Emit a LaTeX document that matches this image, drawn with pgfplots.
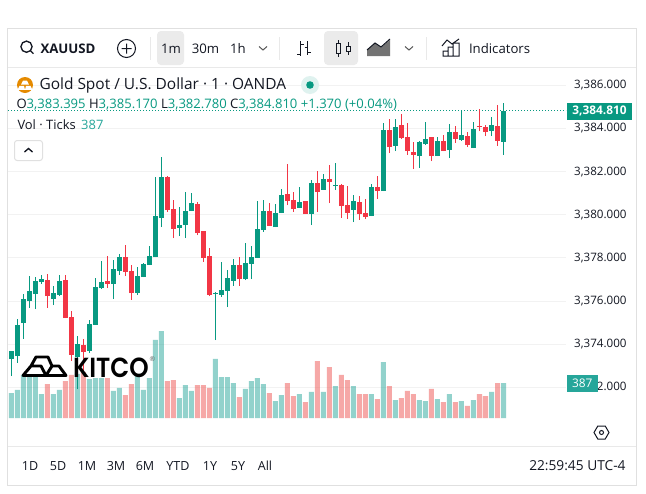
\documentclass[border=0pt]{standalone}
\usepackage{fontspec}
\setmainfont{Open Sans}
\newfontfamily\logofont{Poppins SemiBold}
\usepackage{pgfplots}
\usepackage{pgfplotstable}
\pgfplotsset{compat=1.18}

\definecolor{upc}{HTML}{089981}
\definecolor{downc}{HTML}{F23645}
\definecolor{volup}{HTML}{26A69A}
\definecolor{voldown}{HTML}{EF5350}
\definecolor{ink}{HTML}{131722}
\definecolor{framec}{HTML}{E0E0E0}
\definecolor{gridc}{HTML}{F2F2F2}

% x is the minute index, 6 px apart
\pgfplotstableread{
x o h l c v
0 3373.31 3373.68 3372.52 3373.68 276
1 3373.45 3375.17 3373.13 3374.89 310
2 3374.98 3376.33 3374.24 3376.09 476
3 3376.00 3377.16 3375.68 3376.46 476
4 3376.33 3377.11 3375.63 3376.93 465
5 3376.88 3377.21 3376.79 3377.02 265
7 3376.09 3376.70 3375.81 3376.37 265
8 3376.28 3377.21 3376.23 3376.93 310
11 3373.40 3374.38 3371.92 3374.00 487
13 3373.68 3375.12 3373.59 3374.93 431
14 3374.89 3377.07 3374.89 3376.65 442
15 3376.60 3377.86 3376.56 3376.88 442
17 3376.79 3377.90 3376.09 3377.49 299
18 3377.39 3378.18 3377.21 3378.04 332
21 3376.37 3377.58 3376.28 3377.16 476
22 3377.11 3377.76 3377.11 3377.72 310
23 3377.67 3378.55 3377.67 3378.09 442
24 3378.04 3381.75 3378.04 3379.94 863
25 3379.85 3382.68 3379.43 3381.75 962
28 3379.38 3380.36 3379.01 3379.52 221
29 3379.52 3381.05 3378.92 3380.17 365
30 3380.17 3381.01 3380.17 3380.54 299
34 3376.33 3376.42 3374.19 3376.37 653
35 3376.28 3377.81 3376.19 3376.51 453
36 3376.46 3377.44 3375.72 3377.07 453
37 3376.93 3377.95 3376.70 3377.67 387
39 3377.02 3378.69 3376.97 3377.76 321
40 3377.72 3378.55 3377.02 3378.04 409
41 3378.00 3380.64 3378.00 3379.34 442
42 3379.29 3380.68 3379.20 3380.17 376
44 3379.43 3380.50 3379.43 3380.08 188
45 3380.08 3381.19 3380.08 3380.91 254
48 3380.31 3381.29 3380.31 3380.59 265
50 3380.03 3381.61 3379.52 3381.47 288
52 3381.15 3381.89 3381.15 3381.66 288
54 3381.33 3382.40 3381.15 3381.38 354
57 3380.22 3380.91 3379.66 3380.64 354
60 3379.94 3381.42 3379.94 3381.29 265
62 3381.10 3384.25 3381.10 3383.93 619
64 3383.19 3384.44 3382.95 3384.07 199
68 3382.72 3383.42 3382.17 3383.37 199
69 3383.28 3384.30 3383.23 3383.51 188
71 3382.72 3383.60 3382.72 3383.42 210
73 3383.00 3384.21 3382.63 3383.84 265
75 3383.47 3384.81 3383.42 3383.70 188
77 3383.09 3384.30 3383.09 3383.97 199
80 3383.88 3384.53 3383.65 3384.16 288
82 3383.395 3385.17 3382.78 3384.81 387
}\upbars

\pgfplotstableread{
x o h l c v
6 3376.97 3377.25 3375.68 3376.23 376
9 3376.97 3377.21 3375.21 3375.21 409
10 3375.26 3375.54 3373.22 3373.50 476
12 3373.96 3374.24 3372.71 3373.64 509
16 3376.93 3378.09 3376.60 3376.79 442
19 3378.04 3378.60 3377.16 3377.35 254
20 3377.39 3377.67 3376.05 3376.37 376
26 3381.75 3381.80 3380.13 3380.22 409
27 3380.26 3380.68 3378.92 3379.34 420
31 3380.50 3380.59 3379.06 3379.15 365
32 3379.25 3379.25 3377.81 3378.00 365
33 3378.09 3378.46 3376.23 3376.28 332
38 3377.67 3378.04 3376.70 3377.02 232
43 3380.17 3380.54 3379.48 3379.48 276
46 3380.96 3382.35 3380.45 3380.64 387
47 3380.68 3381.05 3380.13 3380.26 243
49 3380.64 3380.64 3380.03 3380.03 177
51 3381.47 3382.03 3380.13 3381.05 630
53 3381.66 3382.31 3380.54 3381.52 564
55 3381.38 3381.42 3379.85 3380.40 476
56 3380.45 3381.33 3379.80 3380.08 420
58 3380.59 3380.87 3379.76 3380.03 265
59 3380.08 3380.73 3379.80 3379.89 265
61 3381.29 3381.80 3380.73 3381.10 210
63 3383.93 3384.44 3382.86 3383.14 354
65 3384.16 3384.67 3383.51 3383.56 221
66 3383.60 3384.25 3382.77 3382.95 299
67 3382.91 3383.37 3382.12 3382.77 265
70 3383.60 3383.60 3382.49 3382.72 321
72 3383.42 3383.70 3382.95 3382.95 177
74 3383.84 3384.11 3383.33 3383.51 177
76 3383.65 3383.84 3383.14 3383.23 133
78 3384.11 3384.90 3383.88 3384.07 265
79 3384.07 3384.16 3383.65 3383.84 243
81 3384.11 3385.09 3383.19 3383.42 387
}\downbars

\pgfplotsset{
	pane/.style={scale only axis, width=418.5pt, xmin=-0.583, xmax=92.417, clip=true},
	wick/.style={draw=none, no markers, forget plot,
		error bars/.cd, y dir=plus, y explicit, error mark=none,
		error bar style={solid, line width=0.75pt, draw=#1}},
	body/.style={draw=none, no markers, forget plot,
		error bars/.cd, y dir=plus, y explicit, error mark=none,
		error bar style={solid, line width=3.75pt, draw=#1}},
	volbar/.style={ybar, bar width=3.75pt, bar shift=0pt, fill=#1, fill opacity=0.5, draw=none, forget plot},
}

\begin{document}
\begin{tikzpicture}
\fill[white] (0,0) rectangle (484.5pt,-369.75pt);
\path[use as bounding box] (0,0) rectangle (484.5pt,-369.75pt);

% price scale, grid and last price line
\begin{axis}[pane, at={(6pt,-334.725pt)}, anchor=south west, height=284.25pt,
	ymin=3369.265, ymax=3386.835,
	axis line style={draw=none}, tick style={draw=none},
	xtick=\empty, ytick={3372,3374,...,3386},
	ymajorgrids, grid style={gridc, line width=0.75pt},
	y tick label style={anchor=east, xshift=45.6pt, inner sep=0pt, text=ink,
		font=\fontsize{8.7pt}{10pt}\selectfont,
		/pgf/number format/.cd, fixed, fixed zerofill, precision=3, 1000 sep={,}, assume math mode=true},
	ytick pos=right,
]
\addplot[upc, line width=0.75pt, dash pattern=on 0.6pt off 1.65pt, forget plot]
	coordinates {(-0.583,3384.81) (92.417,3384.81)};
\end{axis}

% volume pane, same x
\begin{axis}[pane, at={(6pt,-313.5pt)}, anchor=south west, height=263pt,
	ymin=0, ymax=3879, hide axis]
\addplot[volbar=volup] table[x=x,y=v] {\upbars};
\addplot[volbar=voldown] table[x=x,y=v] {\downbars};
\end{axis}

% candles
\begin{axis}[pane, at={(6pt,-334.725pt)}, anchor=south west, height=284.25pt,
	ymin=3369.265, ymax=3386.835, hide axis]
\addplot[wick=upc] table[x=x,y=l,y error plus expr=\thisrow{h}-\thisrow{l}] {\upbars};
\addplot[wick=downc] table[x=x,y=l,y error plus expr=\thisrow{h}-\thisrow{l}] {\downbars};
\addplot[body=upc] table[x=x,y=o,y error plus expr=\thisrow{c}-\thisrow{o}] {\upbars};
\addplot[body=downc] table[x=x,y=c,y error plus expr=\thisrow{o}-\thisrow{c}] {\downbars};
\end{axis}

% page furniture, in image pixels
\begin{scope}[x=0.75pt,y=-0.75pt,line width=0.75pt]
\draw[framec] (7.5,28.5) rectangle (636,485);
\draw[framec!70] (8,67.3) -- (636,67.3);
\draw[framec!70] (8,446.3) -- (636,446.3);

% toolbar
\draw[ink,line width=1pt] (26.5,46.7) circle (5.6) (30.6,50.8) -- (33.5,53.7);
\node[anchor=west,inner sep=0,text=ink] at (40,48.3) {\fontsize{9.9pt}{11pt}\selectfont\bfseries XAUUSD};
\draw[ink] (126.5,48.5) circle (9) (121.5,48.5) -- (131.5,48.5) (126.5,43.5) -- (126.5,53.5);
\draw[framec!70] (150.5,37) -- (150.5,60) (279.5,37) -- (279.5,60) (426.5,37) -- (426.5,60);
\fill[black!8,rounded corners=3pt] (157,31) rectangle (184,65);
\fill[black!8,rounded corners=3pt] (324,31) rectangle (358,65);
\foreach \t/\xx in {1m/171,30m/205.5,1h/238}
	\node[text=ink,inner sep=0] at (\xx,48.3) {\fontsize{9.9pt}{11pt}\selectfont \t};
\draw[black!65] (259,46.5) -- (263,50) -- (267,46.5);
\draw[black!65] (405,46.5) -- (409,50) -- (413,46.5);
% bars icon
\draw[ink] (300.5,41) -- (300.5,56) (297,54.5) -- (300.5,54.5) (300.5,44) -- (303.5,44)
	(307.5,41) -- (307.5,55) (304.5,47) -- (307.5,47) (307.5,52) -- (311,52);
% candle icon
\draw[ink] (336,43.5) rectangle (340,53) (338,40) -- (338,43.5) (338,53) -- (338,56.5)
	(346,46.5) rectangle (350,51.5) (348,42) -- (348,46.5) (348,51.5) -- (348,55);
% area icon
\fill[black!55] (367,50) -- (375,43.5) -- (381,47.5) -- (390,40) -- (390,56) -- (367,56) -- cycle;
\draw[ink] (367,50) -- (375,43) -- (381,47) -- (390,39);
% indicators icon
\draw[ink] (443,51) rectangle (448,56) (448,47) rectangle (453,56) (453,43) rectangle (459,56)
	(442,46) -- (447,40) -- (452,44) -- (459,39);
\node[anchor=west,inner sep=0,text=ink] at (468.5,48.3) {\fontsize{9.9pt}{11pt}\selectfont Indicators};

% legend block
\fill[orange!80!yellow!90!black] (25,85) circle (8);
\fill[white] (21,84.5) -- (23,80.5) -- (27,80.5) -- (29,84.5) -- cycle
	(17.5,89.8) -- (19.5,85.8) -- (24,85.8) -- (25,89.8) -- cycle
	(25,89.8) -- (26,85.8) -- (30.5,85.8) -- (32.5,89.8) -- cycle;
\node[anchor=west,inner sep=0,text=ink] at (39,85.6) {\fontsize{11.6pt}{13pt}\selectfont Gold Spot / U.S. Dollar · 1 · OANDA};
\fill[upc!13] (310,85) circle (9);
\fill[upc] (310,85) circle (3.8);
\node[anchor=west,inner sep=0,text=upc] at (16,104.5) {\fontsize{9.8pt}{11pt}\selectfont\textcolor{ink}{O}3,383.395 \textcolor{ink}{H}3,385.170 \textcolor{ink}{L}3,382.780 \textcolor{ink}{C}3,384.810 +1.370 (+0.04\%)};
\node[anchor=west,inner sep=0,text=ink] at (17,125) {\fontsize{9.7pt}{11pt}\selectfont Vol · Ticks \,\textcolor{volup}{387}};
\draw[framec,rounded corners=2pt] (14.5,140.5) rectangle (42.5,160.5);
\draw[ink,line width=1pt] (24.5,152) -- (28.5,148.5) -- (32.5,152);

% price tags
\fill[upc] (567,103) rectangle (632,120);
\node[text=white,inner sep=0] at (599.5,111.3) {\fontsize{8.9pt}{10pt}\selectfont\bfseries 3,384.810};
\fill[volup] (567,375) rectangle (597.7,392);
\node[text=white,inner sep=0] at (582.3,383.5) {\fontsize{8.9pt}{10pt}\selectfont 387};
\draw[ink] (594,432.5) -- (597.8,426) -- (605.2,426) -- (609,432.5) -- (605.2,439) -- (597.8,439) -- cycle;
\draw[ink] (601.5,432.5) circle (2);

% bottom row
\foreach \t/\xx in {1D/30,5D/58,1M/87,3M/116,6M/145,YTD/178,1Y/210,5Y/238,All/265}
	\node[text=ink,inner sep=0] at (\xx,466) {\fontsize{9.4pt}{11pt}\selectfont \t};
\node[anchor=east,inner sep=0,text=ink] at (626,466) {\fontsize{10.3pt}{11pt}\selectfont 22:59:45 UTC-4};

% watermark
\draw[black,line width=2.2pt,line join=round] (23,375.5) -- (31,366) -- (41,366) -- (46,375.5) -- cycle
	(46,375.5) -- (52,366) -- (59,366) -- (66,375.5) -- cycle
	(31,366) -- (36,357) -- (48,357) -- (52,366);
\node[anchor=west,inner sep=0,text=black,yscale=1.12] at (72.5,367.8) {\fontsize{18.5pt}{20pt}\selectfont\logofont KITCO};
\node[anchor=west,inner sep=0,text=black!60] at (149,359.5) {\fontsize{5pt}{6pt}\selectfont ®};
\end{scope}
\end{tikzpicture}
\end{document}
